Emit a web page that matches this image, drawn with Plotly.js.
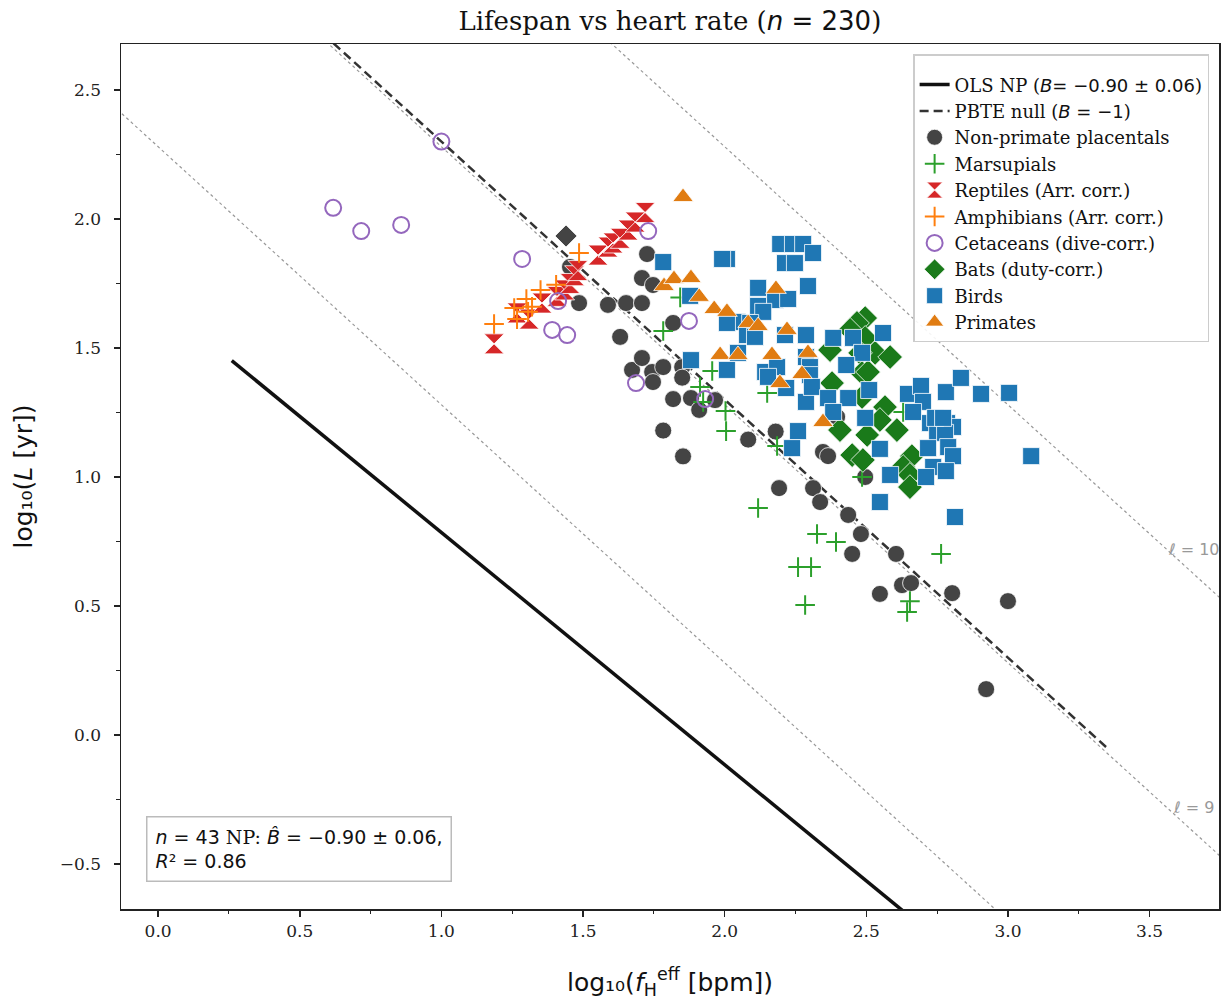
<!DOCTYPE html>
<html>
<head>
<meta charset="utf-8">
<script src="https://cdn.plot.ly/plotly-3.0.1.min.js"></script>
<style>html,body{margin:0;padding:0;background:#fff;}#chart{width:1228px;height:1000px;}</style>
</head>
<body>
<div id="chart"></div>
<script>
// ---- data (log10 heart rate, log10 lifespan) ----
const npX = [1.454,1.486,1.588,1.631,1.652,1.673,1.708,1.708,1.708,1.726,1.744,1.747,1.747,1.783,1.783,1.818,1.818,1.850,1.850,1.853,1.881,1.910,1.966,2.083,2.180,2.192,2.312,2.337,2.347,2.365,2.397,2.436,2.450,2.481,2.496,2.548,2.605,2.626,2.658,2.803,2.923,3.000];
const npY = [1.814,1.674,1.667,1.543,1.674,1.415,1.771,1.674,1.461,1.864,1.407,1.744,1.368,1.426,1.180,1.597,1.302,1.426,1.385,1.080,1.306,1.260,1.298,1.145,1.176,0.957,0.957,0.903,1.097,1.081,1.233,0.853,0.702,0.779,1.000,0.547,0.702,0.581,0.589,0.550,0.178,0.519];
const otherX = [1.44];
const otherY = [1.934];
const marX = [1.783,1.843,1.913,1.924,1.956,2.003,2.005,2.118,2.150,2.185,2.259,2.284,2.305,2.326,2.393,2.485,2.630,2.644,2.654,2.764];
const marY = [1.566,1.696,1.349,1.291,1.411,1.256,1.178,0.880,1.326,1.120,0.651,0.504,0.651,0.779,0.748,1.000,1.252,0.477,0.519,0.702];
const repX = [1.186,1.267,1.310,1.355,1.408,1.435,1.454,1.470,1.482,1.553,1.588,1.606,1.631,1.659,1.684,1.719];
const repY = [1.516,1.636,1.612,1.674,1.700,1.725,1.750,1.780,1.800,1.860,1.891,1.907,1.925,1.957,1.988,2.025];
const ampX = [1.186,1.257,1.267,1.300,1.306,1.320,1.350,1.405,1.486];
const ampY = [1.593,1.655,1.612,1.690,1.640,1.660,1.725,1.745,1.868];
const cetX = [0.618,0.717,0.858,1.000,1.285,1.730,1.412,1.391,1.444,1.874,1.687,1.931];
const cetY = [2.043,1.953,1.977,2.300,1.845,1.953,1.682,1.570,1.550,1.605,1.364,1.302];
const batX = [2.496,2.467,2.443,2.372,2.496,2.531,2.584,2.478,2.379,2.485,2.506,2.485,2.566,2.548,2.608,2.407,2.503,2.450,2.488,2.661,2.630,2.654,2.654];
const batY = [1.616,1.597,1.570,1.492,1.539,1.481,1.465,1.481,1.364,1.403,1.407,1.310,1.271,1.221,1.182,1.182,1.163,1.085,1.066,1.081,1.039,1.008,0.961];
const birdX = [1.783,2.008,1.991,2.196,2.241,2.277,2.312,2.213,2.248,2.294,2.118,2.118,2.178,2.224,2.136,2.044,2.008,2.090,2.079,2.107,2.213,2.287,2.383,2.453,2.559,2.047,2.008,2.143,2.185,2.287,2.301,2.301,2.153,2.217,2.287,2.308,2.485,2.429,2.365,2.436,2.510,2.383,2.496,2.259,2.238,2.548,2.584,2.548,2.647,2.693,2.700,2.781,2.834,2.905,3.004,2.665,2.725,2.753,2.785,2.806,2.750,2.778,2.718,2.789,2.806,2.736,2.781,2.711,3.082,2.813,1.878,1.881,2.743,2.771];
const birdY = [1.833,1.845,1.845,1.903,1.903,1.903,1.868,1.829,1.829,1.740,1.733,1.663,1.686,1.690,1.640,1.601,1.597,1.597,1.550,1.543,1.550,1.550,1.539,1.539,1.558,1.481,1.415,1.407,1.426,1.465,1.426,1.395,1.388,1.345,1.291,1.349,1.481,1.434,1.306,1.306,1.337,1.252,1.229,1.178,1.112,1.109,1.008,0.903,1.322,1.353,1.291,1.329,1.384,1.322,1.326,1.252,1.209,1.209,1.209,1.194,1.171,1.171,1.112,1.116,1.081,1.039,1.023,1.000,1.081,0.845,1.702,1.453,1.229,1.229];
const priX = [1.853,1.786,1.821,1.881,1.910,1.963,2.008,2.181,2.083,2.118,2.220,1.984,2.047,2.167,2.294,2.273,2.195,2.347];
const priY = [2.085,1.740,1.767,1.771,1.698,1.651,1.640,1.729,1.597,1.585,1.570,1.473,1.473,1.473,1.481,1.399,1.364,1.213];

// fit / reference-line parameters
const olsSlope = -0.90, olsIntercept = 1.685, olsXRange = [0.26, 2.70];
const nullSlope = -1.0, nullIntercept = 3.30, nullXRange = [0.40, 3.35];
const beatsOffset = 5.72;           // log10(minutes per year)
const ellValues = [8, 9, 10];
const ellLabelValues = [9, 10];
const ellXRange = [-0.3, 3.9];

const SERIF = 'DejaVu Serif, serif';
const SANS = 'DejaVu Sans, sans-serif';
const sp = (t) => `<span style="font-family:'DejaVu Sans'">${t}</span>`;

const traces = [];
ellValues.forEach(l => {
  traces.push({x: ellXRange, y: ellXRange.map(x => l - beatsOffset - x), mode:'lines',
    line:{color:'#999', width:1.2, dash:'dot'}, showlegend:false, hoverinfo:'skip'});
});
traces.push({x: olsXRange, y: olsXRange.map(x => olsIntercept + olsSlope*x), mode:'lines',
  line:{color:'#111', width:3.5}, name: 'OLS NP (' + sp('<i>B</i>= −0.90 ± 0.06') + ')'});
traces.push({x: nullXRange, y: nullXRange.map(x => nullIntercept + nullSlope*x), mode:'lines',
  line:{color:'#333', width:2.5, dash:'9px,5px'}, name: 'PBTE null (' + sp('<i>B</i> = −1') + ')'});

const wl = {color:'white', width:0.8};
traces.push({x:otherX, y:otherY, mode:'markers', showlegend:false,
  marker:{symbol:'diamond', size:17, color:'#444', line:wl}});
traces.push({x:npX, y:npY, mode:'markers', name:'Non-primate placentals',
  marker:{symbol:'circle', size:17, color:'#444', line:wl}});
traces.push({x:marX, y:marY, mode:'markers', name:'Marsupials',
  marker:{symbol:'cross-thin', size:14, color:'#2ca02c', line:{color:'#2ca02c', width:2}}});
traces.push({x:repX, y:repY, mode:'markers', name:'Reptiles (Arr. corr.)',
  marker:{symbol:'hourglass', size:20, color:'#d62728', line:wl}});
traces.push({x:ampX, y:ampY, mode:'markers', name:'Amphibians (Arr. corr.)',
  marker:{symbol:'cross-thin', size:14, color:'#ff7f0e', line:{color:'#ff7f0e', width:2}}});
traces.push({x:cetX, y:cetY, mode:'markers', name:'Cetaceans (dive-corr.)',
  marker:{symbol:'circle-open', size:16, color:'#9467bd', line:{color:'#9467bd', width:2}}});
traces.push({x:batX, y:batY, mode:'markers', name:'Bats (duty-corr.)',
  marker:{symbol:'diamond', size:19, color:'#1a7a1a', line:wl}});
traces.push({x:birdX, y:birdY, mode:'markers', name:'Birds',
  marker:{symbol:'square', size:17, color:'#1f77b4', line:wl}});
traces.push({x:priX, y:priY, mode:'markers', name:'Primates',
  marker:{symbol:'triangle-up', size:18, color:'#e07c12', line:wl}});

const annotations = ellLabelValues.map(l => ({
  x: 3.655, y: l - beatsOffset - 3.655 + 0.095, xref:'x', yref:'y', showarrow:false,
  text: '<i>ℓ</i> = ' + l, font:{family:SANS, size:16, color:'#999'}
}));
annotations.push({
  xref:'paper', yref:'paper', x:0.023, y:0.031, xanchor:'left', yanchor:'bottom',
  showarrow:false, align:'left',
  text: '<i>n</i> = 43 <span style="font-family:\'DejaVu Serif\'">NP:</span> <i>B̂</i> = −0.90 ± 0.06,<br><i>R</i>² = 0.86',
  font:{family:SANS, size:19, color:'#111'},
  bordercolor:'#bbb', borderwidth:1.5, borderpad:8, bgcolor:'white'
});

const axisCommon = {
  showgrid:false, zeroline:false, showline:true, mirror:true, linecolor:'#222', linewidth:1.5,
  ticks:'outside', ticklen:6, tickwidth:1.5, tickcolor:'#222',
  tickfont:{family:SERIF, size:17, color:'#222'},
  minor:{ticks:'outside', ticklen:3.5, tickwidth:1, tickcolor:'#222'}
};

const layout = {
  width:1228, height:1000,
  margin:{l:121, r:9, t:44, b:91},
  paper_bgcolor:'white', plot_bgcolor:'white',
  title:{text:'Lifespan vs heart rate (' + sp('<i>n</i> = 230') + ')', font:{family:SERIF, size:26, color:'#111'},
    x:0.5455, xref:'container', y:0.979, yref:'container', yanchor:'middle'},
  xaxis: Object.assign({}, axisCommon, {range:[-0.131, 3.745], dtick:0.5, tick0:0, tickformat:'.1f',
    minor:Object.assign({}, axisCommon.minor, {dtick:0.25}),
    title:{text:'log₁₀(<i>f</i><sub>H</sub><sup>eff</sup> [bpm])', font:{family:SANS, size:25, color:'#111'}, standoff:33}}),
  yaxis: Object.assign({}, axisCommon, {range:[-0.674, 2.678], dtick:0.5, tick0:0, tickformat:'.1f',
    ticklabelstandoff:9,
    minor:Object.assign({}, axisCommon.minor, {dtick:0.25}),
    title:{text:'log₁₀(<i>L</i> [yr])', font:{family:SANS, size:25, color:'#111'}, standoff:20}}),
  legend:{x:0.991, y:0.988, xanchor:'right', yanchor:'top', bgcolor:'rgba(255,255,255,0.9)',
    bordercolor:'#ccc', borderwidth:1.5, font:{family:SERIF, size:18, color:'#111'}, tracegroupgap:0,
    title:{text:'\u00a0', font:{size:8}}},
  annotations: annotations,
  showlegend:true
};

Plotly.newPlot('chart', traces, layout, {displayModeBar:false, staticPlot:true});
</script>
</body>
</html>
